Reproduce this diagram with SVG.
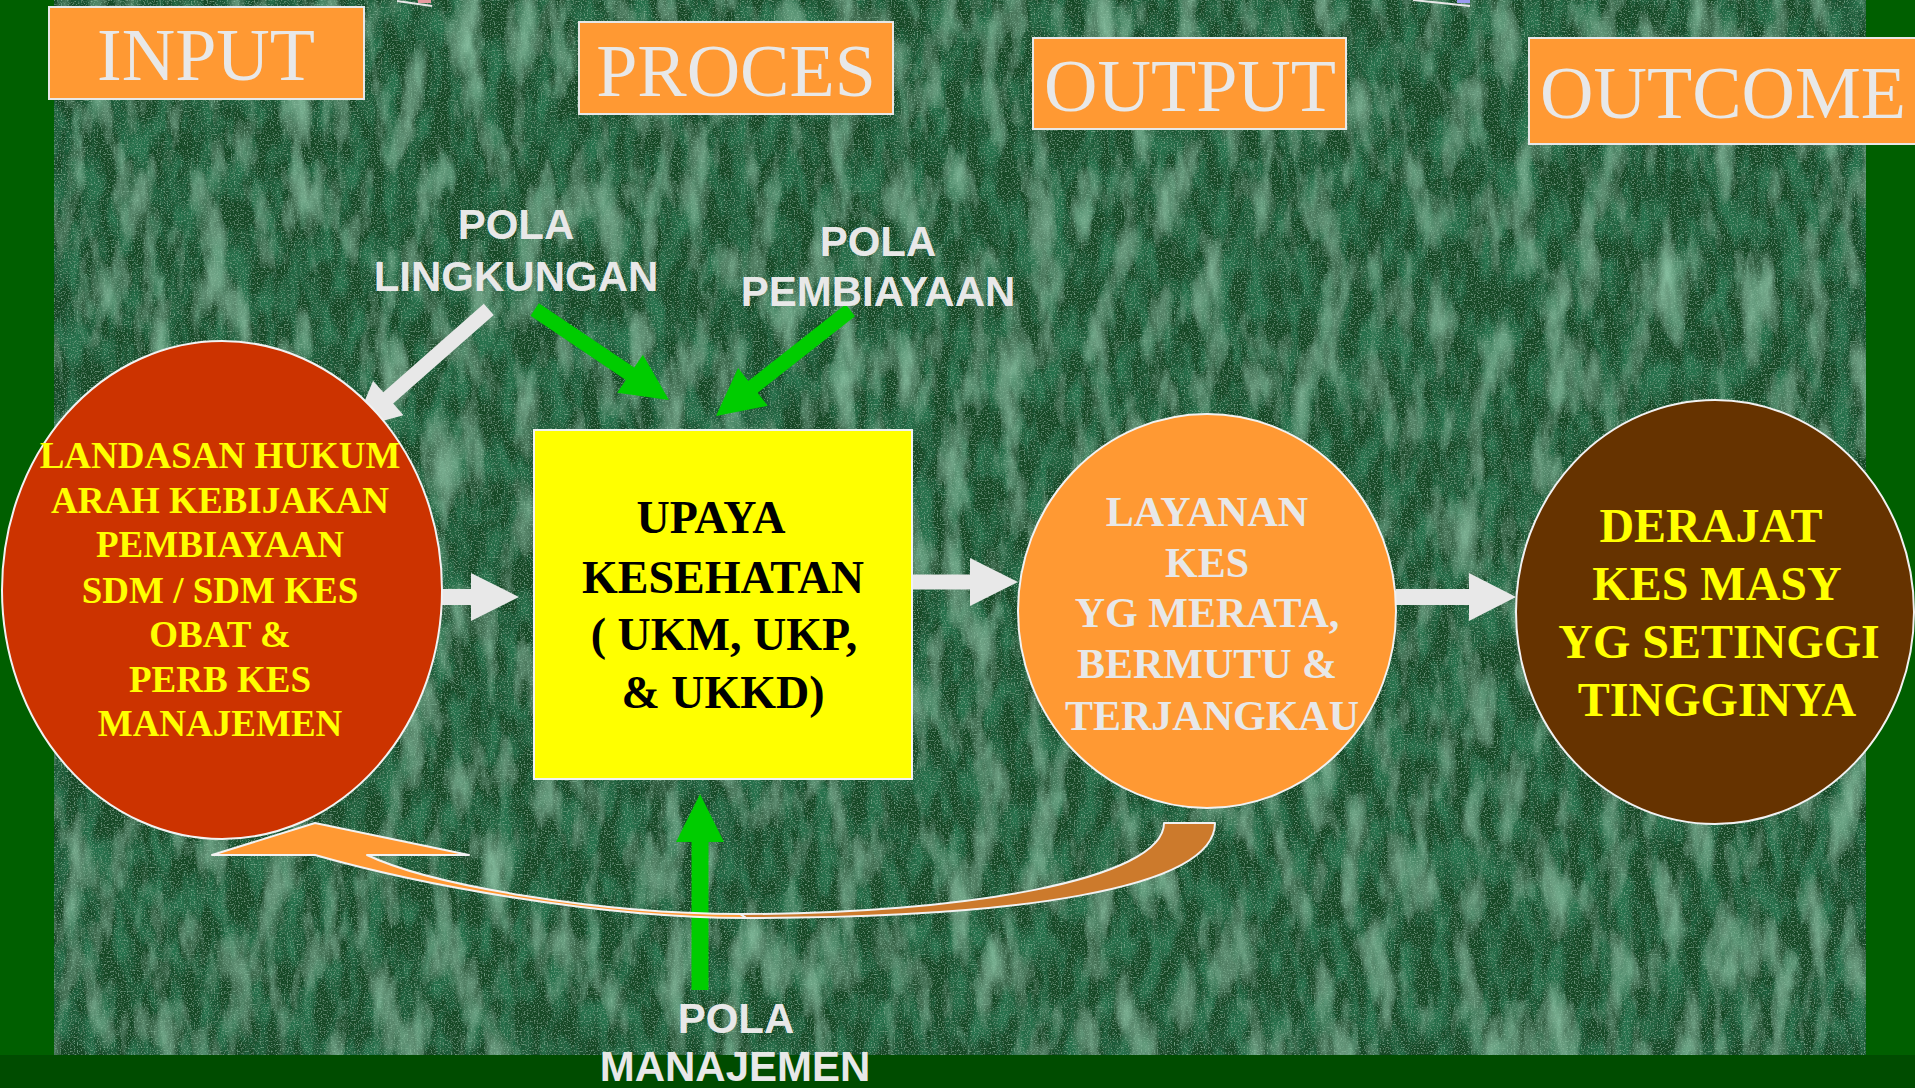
<svg xmlns="http://www.w3.org/2000/svg" width="1915" height="1088" viewBox="0 0 1915 1088">
<defs>
<style>
.title{fill:#ff9933;stroke:#e8e8e8;stroke-width:2}
.ttxt{font-family:"Liberation Serif","Times New Roman",serif;font-size:74px;fill:#e8e8e8;text-anchor:middle}
.pola{font-family:"Liberation Sans",Arial,sans-serif;font-weight:bold;font-size:42px;fill:#e8e8e8;text-anchor:middle}
.bold{font-family:"Liberation Serif","Times New Roman",serif;font-weight:bold;text-anchor:middle}
.wa{fill:#e8e8e8}
.ga{fill:#00cc00}
.node{stroke:#f2f2f2;stroke-width:2}
</style>
<filter id="marble" x="0" y="0" width="1" height="1">
<feTurbulence type="fractalNoise" baseFrequency="0.035 0.012" numOctaves="5" seed="7" result="t1"/>
<feColorMatrix in="t1" type="matrix" values="0 0 0 0 0.26  0 0 0 0 0.56  0 0 0 0 0.38  1.9 0 0 0 -0.95" result="light"/>
<feTurbulence type="fractalNoise" baseFrequency="0.06 0.025" numOctaves="3" seed="11" result="t3"/>
<feColorMatrix in="t3" type="matrix" values="0 0 0 0 0.02  0 0 0 0 0.16  0 0 0 0 0.07  0 -3 0 0 1.8" result="dark"/>
<feTurbulence type="fractalNoise" baseFrequency="0.7" numOctaves="1" seed="2" result="t2"/>
<feColorMatrix in="t2" type="matrix" values="0 0 0 0 0.30  0 0 0 0 0.58  0 0 0 0 0.40  0 0 2.0 0 -1.05" result="speck"/>
<feMerge><feMergeNode in="SourceGraphic"/><feMergeNode in="dark"/><feMergeNode in="light"/><feMergeNode in="speck"/></feMerge>
</filter>
</defs>

<g id="background">
<rect x="0" y="0" width="1915" height="1088" fill="#005f00"/>
<rect x="0" y="1055" width="1915" height="33" fill="#004c00"/>
<rect x="54" y="0" width="1812" height="1055" fill="#134a28" filter="url(#marble)"/>
<path d="M397,1 L432,6" stroke="#e8e8e8" stroke-width="2" fill="none"/>
<rect x="418" y="0" width="13" height="3" fill="#e89aa0"/>
<path d="M1413,0 L1470,6" stroke="#e8e8e8" stroke-width="2" fill="none"/>
<rect x="1457" y="0" width="13" height="3" fill="#9a9af0"/>
</g>

<g id="title-input">
<rect class="title" x="49" y="7" width="315" height="92"/>
<text class="ttxt" x="206" y="80">INPUT</text>
</g>
<g id="title-proces">
<rect class="title" x="579" y="22" width="314" height="92"/>
<text class="ttxt" x="736" y="96">PROCES</text>
</g>
<g id="title-output">
<rect class="title" x="1033" y="38" width="313" height="91"/>
<text class="ttxt" x="1190" y="111">OUTPUT</text>
</g>
<g id="title-outcome">
<rect class="title" x="1529" y="38" width="400" height="106"/>
<text class="ttxt" x="1723" y="118">OUTCOME</text>
</g>

<g id="connectors">
<polygon class="wa" points="519,597 471,573 471,589 414,589 414,605 471,605 471,621"/>
<polygon class="wa" points="1018,582 970,558 970,574.5 912,574.5 912,589.5 970,589.5 970,606"/>
<polygon class="wa" points="1516,597 1469,573 1469,589 1396,589 1396,605 1469,605 1469,621"/>
<polygon class="wa" transform="translate(353 429) rotate(138.6)" points="0,0 -47,-23 -47,-7.5 -181,-7.5 -181,7.5 -47,7.5 -47,23"/>
<polygon class="ga" transform="translate(669 400) rotate(34)" points="0,0 -47,-23 -47,-7.5 -162,-7.5 -162,7.5 -47,7.5 -47,23"/>
<polygon class="ga" transform="translate(716 416) rotate(141.8)" points="0,0 -47,-24 -47,-7.5 -171,-7.5 -171,7.5 -47,7.5 -47,24"/>
<polygon class="ga" transform="translate(700 794) rotate(-90)" points="0,0 -48,-24 -48,-8.5 -196,-8.5 -196,8.5 -48,8.5 -48,24"/>
<g id="feedback-arrow" stroke="#f2f2f2" stroke-width="2" stroke-linejoin="round">
<path fill="#cc7a2c" d="M1215,823 C1215,890 1010,918 746,918 L740,914 C960,914 1164,880 1164,823 Z"/>
<path fill="#ff9933" d="M212,855 L315,823 L469,855 L367,855 C430,885 600,914 740,914 L746,918 C600,918 420,885 315,855 Z"/>
</g>
</g>

<g id="node-input">
<ellipse class="node" cx="222" cy="590" rx="220" ry="249" fill="#cc3300"/>
<g class="bold" font-size="37" fill="#ffff00">
<text x="220" y="468">LANDASAN HUKUM</text>
<text x="220" y="513">ARAH KEBIJAKAN</text>
<text x="220" y="557">PEMBIAYAAN</text>
<text x="220" y="603">SDM / SDM KES</text>
<text x="220" y="647">OBAT &amp;</text>
<text x="220" y="692">PERB KES</text>
<text x="220" y="736">MANAJEMEN</text>
</g>
</g>

<g id="node-proces">
<rect class="node" x="534" y="430" width="378" height="349" fill="#ffff00"/>
<g class="bold" font-size="46" fill="#000000">
<text x="711" y="533">UPAYA</text>
<text x="723" y="593">KESEHATAN</text>
<text x="724" y="650">( UKM, UKP,</text>
<text x="723" y="708">&amp; UKKD)</text>
</g>
</g>

<g id="node-output">
<ellipse class="node" cx="1207" cy="611" rx="189" ry="197" fill="#ff9933"/>
<g class="bold" font-size="42" fill="#e8e8e8">
<text x="1207" y="526">LAYANAN</text>
<text x="1207" y="577">KES</text>
<text x="1207" y="627">YG MERATA,</text>
<text x="1207" y="678">BERMUTU &amp;</text>
<text x="1212" y="730">TERJANGKAU</text>
</g>
</g>

<g id="node-outcome">
<ellipse class="node" cx="1715" cy="612" rx="199" ry="212" fill="#663300"/>
<g class="bold" font-size="48" fill="#ffff00">
<text x="1711" y="542">DERAJAT</text>
<text x="1717" y="600">KES MASY</text>
<text x="1719" y="658">YG SETINGGI</text>
<text x="1717" y="716">TINGGINYA</text>
</g>
</g>

<g id="label-lingkungan" class="pola">
<text x="516" y="239">POLA</text>
<text x="516" y="291">LINGKUNGAN</text>
</g>
<g id="label-pembiayaan" class="pola">
<text x="878" y="256">POLA</text>
<text x="878" y="306">PEMBIAYAAN</text>
</g>
<g id="label-manajemen" class="pola">
<text x="736" y="1033">POLA</text>
<text x="735" y="1081">MANAJEMEN</text>
</g>
</svg>
